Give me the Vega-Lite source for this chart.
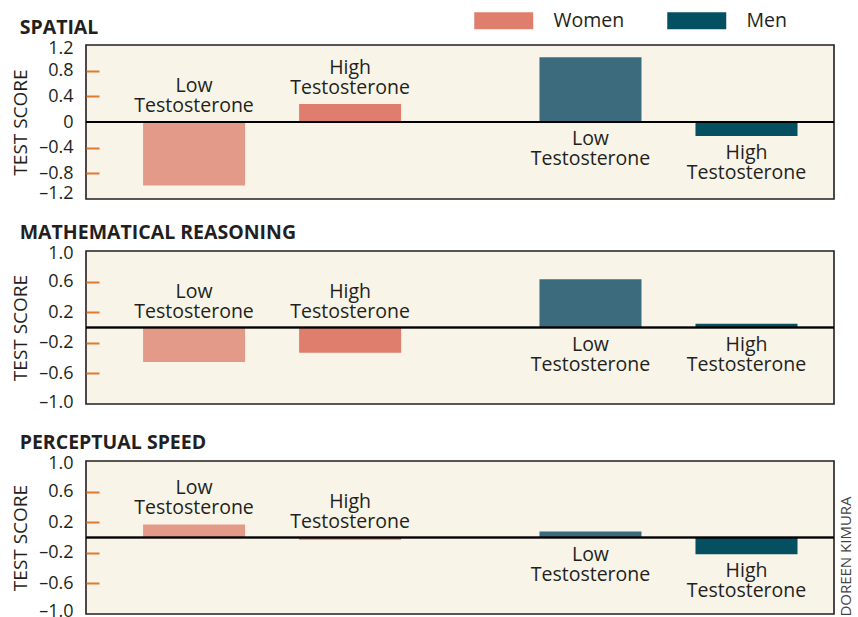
{
  "$schema": "https://vega.github.io/schema/vega-lite/v6.json",
  "padding": {"left": 10, "top": 10, "right": 2, "bottom": 0},
  "background": "white",
  "data": {"values": [
    {"test": "Spatial", "sex": "Women", "level": "Low", "group": "Women Low", "value": -0.99, "label": "Low\nTestosterone"},
    {"test": "Spatial", "sex": "Women", "level": "High", "group": "Women High", "value": 0.28, "label": "High\nTestosterone"},
    {"test": "Spatial", "sex": "Men", "level": "Low", "group": "Men Low", "value": 1.01, "label": "Low\nTestosterone"},
    {"test": "Spatial", "sex": "Men", "level": "High", "group": "Men High", "value": -0.22, "label": "High\nTestosterone"},
    {"test": "Math", "sex": "Women", "level": "Low", "group": "Women Low", "value": -0.45, "label": "Low\nTestosterone"},
    {"test": "Math", "sex": "Women", "level": "High", "group": "Women High", "value": -0.33, "label": "High\nTestosterone"},
    {"test": "Math", "sex": "Men", "level": "Low", "group": "Men Low", "value": 0.63, "label": "Low\nTestosterone"},
    {"test": "Math", "sex": "Men", "level": "High", "group": "Men High", "value": 0.05, "label": "High\nTestosterone"},
    {"test": "Perceptual", "sex": "Women", "level": "Low", "group": "Women Low", "value": 0.17, "label": "Low\nTestosterone"},
    {"test": "Perceptual", "sex": "Women", "level": "High", "group": "Women High", "value": -0.03, "label": "High\nTestosterone"},
    {"test": "Perceptual", "sex": "Men", "level": "Low", "group": "Men Low", "value": 0.08, "label": "Low\nTestosterone"},
    {"test": "Perceptual", "sex": "Men", "level": "High", "group": "Men High", "value": -0.22, "label": "High\nTestosterone"}
  ]},
  "config": {
    "font": "Open Sans",
    "view": {"fill": "#F8F5E8", "stroke": "#231F20", "strokeWidth": 1.6},
    "title": {"anchor": "start", "frame": "bounds", "fontSize": 19.5, "fontWeight": "bold", "color": "#231F20", "dx": 8, "offset": 1.5, "font": "Open Sans"},
    "text": {"font": "Open Sans", "fontSize": 19.5, "color": "#231F20", "lineBreak": "\n", "lineHeight": 20},
    "axis": {"labelFont": "Open Sans", "titleFont": "Open Sans", "labelOverlap": false},
    "axisY": {"titleFontSize": 19, "titleFontWeight": "normal", "titleColor": "#231F20", "titlePadding": 8,
      "labelFontSize": 18, "labelColor": "#231F20", "labelPadding": 26, "labelOverlap": false,
      "domain": false, "grid": false, "tickSize": -13, "tickColor": "#E1782F", "tickWidth": 2}
  },
  "spacing": 18,
  "resolve": {"scale": {"color": "shared", "y": "independent", "x": "independent", "xOffset": "independent"}, "legend": {"color": "shared"}},
  "vconcat": [
    {
      "title": "SPATIAL",
      "width": 748, "height": 154,
      "transform": [{"filter": "datum.test == 'Spatial'"}],
      "resolve": {"axis": {"y": "independent"}},
      "layer": [
        {
          "mark": {"type": "bar"},
          "encoding": {
            "x": {"field": "sex", "type": "nominal", "axis": null, "scale": {"domain": ["Women", "Men"], "paddingInner": 0.349, "paddingOuter": 0.118, "align": 0.61}},
            "xOffset": {"field": "level", "type": "nominal", "scale": {"domain": ["Low", "High"], "paddingInner": 0.346, "paddingOuter": 0}},
            "y": {"field": "value", "type": "quantitative", "stack": null,
              "scale": {"domain": [-1.2, 1.2], "nice": false},
              "axis": {"title": "TEST SCORE", "labelOverlap": false, "labelFontSize": 18,
                "values": [-1.2, -0.8, -0.4, 0, 0.4, 0.8, 1.2],
                "labelExpr": "datum.value == 0 ? '0' : (datum.value < 0 ? '–' : '') + format(abs(datum.value), '.1f')",
                "labelOffset": {"condition": [{"test": "datum.value > 1.1", "value": 3.5}, {"test": "datum.value < -1.1", "value": -6}], "value": 0},
                "tickOpacity": {"condition": {"test": "abs(datum.value) > 1.1 || datum.value == 0", "value": 0}, "value": 1}}},
            "color": {"field": "group", "type": "nominal",
              "scale": {"domain": ["Women Low", "Women High", "Men Low", "Men High"], "range": ["#E49A89", "#E07E6E", "#3D6B7E", "#055060"]},
              "legend": {"orient": "none", "legendX": 408, "legendY": -34.5, "direction": "horizontal", "title": null,
                "values": ["Women High", "Men High"], "labelExpr": "split(datum.label, ' ')[0]",
                "symbolType": "M-3.47,-1H3.47V1H-3.47Z", "symbolSize": 289, "symbolStrokeWidth": 0, "symbolOpacity": 1,
                "labelFontSize": 19.5, "labelColor": "#231F20", "labelFont": "Open Sans", "labelOffset": 40, "columnPadding": 42, "padding": 0}}
          }
        },
        {"mark": {"type": "rule", "color": "#000000", "strokeWidth": 1.5}, "encoding": {"y": {"datum": 0, "axis": null}}},
        {
          "transform": [{"filter": "datum.sex == 'Women' && datum.value >= 0"}],
          "mark": {"type": "text", "baseline": "bottom", "dy": -26},
          "encoding": {
            "x": {"field": "sex", "type": "nominal"}, "xOffset": {"field": "level", "type": "nominal"},
            "y": {"field": "value", "type": "quantitative", "axis": null}, "text": {"field": "label"}}
        },
        {
          "transform": [{"filter": "datum.sex == 'Women' && datum.value < 0"}],
          "mark": {"type": "text", "baseline": "bottom", "dy": -26},
          "encoding": {
            "x": {"field": "sex", "type": "nominal"}, "xOffset": {"field": "level", "type": "nominal"},
            "y": {"datum": 0, "axis": null}, "text": {"field": "label"}}
        },
        {
          "transform": [{"filter": "datum.sex == 'Men' && datum.value > 0"}],
          "mark": {"type": "text", "baseline": "top", "dy": 8},
          "encoding": {
            "x": {"field": "sex", "type": "nominal"}, "xOffset": {"field": "level", "type": "nominal"},
            "y": {"datum": 0, "axis": null}, "text": {"field": "label"}}
        },
        {
          "transform": [{"filter": "datum.sex == 'Men' && datum.value <= 0"}],
          "mark": {"type": "text", "baseline": "top", "dy": 8},
          "encoding": {
            "x": {"field": "sex", "type": "nominal"}, "xOffset": {"field": "level", "type": "nominal"},
            "y": {"field": "value", "type": "quantitative", "axis": null}, "text": {"field": "label"}}
        }
      ]
    },
    {
      "title": "MATHEMATICAL REASONING",
      "width": 748, "height": 153,
      "transform": [{"filter": "datum.test == 'Math'"}],
      "resolve": {"axis": {"y": "independent"}},
      "layer": [
        {
          "mark": {"type": "bar"},
          "encoding": {
            "x": {"field": "sex", "type": "nominal", "axis": null, "scale": {"domain": ["Women", "Men"], "paddingInner": 0.349, "paddingOuter": 0.118, "align": 0.61}},
            "xOffset": {"field": "level", "type": "nominal", "scale": {"domain": ["Low", "High"], "paddingInner": 0.346, "paddingOuter": 0}},
            "y": {"field": "value", "type": "quantitative", "stack": null,
              "scale": {"domain": [-1, 1], "nice": false},
              "axis": {"title": "TEST SCORE", "labelOverlap": false, "labelFontSize": 18,
                "values": [-1, -0.6, -0.2, 0.2, 0.6, 1],
                "labelExpr": "(datum.value < 0 ? '–' : '') + format(abs(datum.value), '.1f')",
                "labelOffset": {"condition": [{"test": "datum.value > 0.9", "value": 2.5}, {"test": "datum.value < -0.9", "value": -1.5}], "value": 0},
                "tickOpacity": {"condition": {"test": "abs(datum.value) > 0.9", "value": 0}, "value": 1}}},
            "color": {"field": "group", "type": "nominal",
              "scale": {"domain": ["Women Low", "Women High", "Men Low", "Men High"], "range": ["#E49A89", "#E07E6E", "#3D6B7E", "#055060"]}}
          }
        },
        {"mark": {"type": "rule", "color": "#000000", "strokeWidth": 1.5}, "encoding": {"y": {"datum": 0, "axis": null}}},
        {
          "transform": [{"filter": "datum.sex == 'Women' && datum.value >= 0"}],
          "mark": {"type": "text", "baseline": "bottom", "dy": -26},
          "encoding": {
            "x": {"field": "sex", "type": "nominal"}, "xOffset": {"field": "level", "type": "nominal"},
            "y": {"field": "value", "type": "quantitative", "axis": null}, "text": {"field": "label"}}
        },
        {
          "transform": [{"filter": "datum.sex == 'Women' && datum.value < 0"}],
          "mark": {"type": "text", "baseline": "bottom", "dy": -26},
          "encoding": {
            "x": {"field": "sex", "type": "nominal"}, "xOffset": {"field": "level", "type": "nominal"},
            "y": {"datum": 0, "axis": null}, "text": {"field": "label"}}
        },
        {
          "transform": [{"filter": "datum.sex == 'Men' && datum.value > 0"}],
          "mark": {"type": "text", "baseline": "top", "dy": 8},
          "encoding": {
            "x": {"field": "sex", "type": "nominal"}, "xOffset": {"field": "level", "type": "nominal"},
            "y": {"datum": 0, "axis": null}, "text": {"field": "label"}}
        },
        {
          "transform": [{"filter": "datum.sex == 'Men' && datum.value <= 0"}],
          "mark": {"type": "text", "baseline": "top", "dy": 8},
          "encoding": {
            "x": {"field": "sex", "type": "nominal"}, "xOffset": {"field": "level", "type": "nominal"},
            "y": {"field": "value", "type": "quantitative", "axis": null}, "text": {"field": "label"}}
        }
      ]
    },
    {
      "title": "PERCEPTUAL SPEED",
      "width": 748, "height": 153,
      "transform": [{"filter": "datum.test == 'Perceptual'"}],
      "resolve": {"axis": {"y": "independent"}},
      "layer": [
        {
          "mark": {"type": "bar"},
          "encoding": {
            "x": {"field": "sex", "type": "nominal", "axis": null, "scale": {"domain": ["Women", "Men"], "paddingInner": 0.349, "paddingOuter": 0.118, "align": 0.61}},
            "xOffset": {"field": "level", "type": "nominal", "scale": {"domain": ["Low", "High"], "paddingInner": 0.346, "paddingOuter": 0}},
            "y": {"field": "value", "type": "quantitative", "stack": null,
              "scale": {"domain": [-1, 1], "nice": false},
              "axis": {"title": "TEST SCORE", "labelOverlap": false, "labelFontSize": 18,
                "values": [-1, -0.6, -0.2, 0.2, 0.6, 1],
                "labelExpr": "(datum.value < 0 ? '–' : '') + format(abs(datum.value), '.1f')",
                "labelOffset": {"condition": [{"test": "datum.value > 0.9", "value": 2.5}, {"test": "datum.value < -0.9", "value": -2.5}], "value": 0},
                "tickOpacity": {"condition": {"test": "abs(datum.value) > 0.9", "value": 0}, "value": 1}}},
            "color": {"field": "group", "type": "nominal",
              "scale": {"domain": ["Women Low", "Women High", "Men Low", "Men High"], "range": ["#E49A89", "#E07E6E", "#3D6B7E", "#055060"]}}
          }
        },
        {"mark": {"type": "rule", "color": "#000000", "strokeWidth": 1.5},
         "encoding": {"y": {"datum": 0, "type": "quantitative",
           "axis": {"orient": "right", "title": "DOREEN KIMURA", "labels": false, "ticks": false, "domain": false, "grid": false,
             "titleAngle": 270, "titleX": 11, "titleY": 95, "titleAlign": "center", "titleBaseline": "middle",
             "titleFontSize": 15, "titleFontWeight": "normal", "titleColor": "#444444", "titlePadding": 0}}}},
        {
          "transform": [{"filter": "datum.sex == 'Women' && datum.value >= 0"}],
          "mark": {"type": "text", "baseline": "bottom", "dy": -26},
          "encoding": {
            "x": {"field": "sex", "type": "nominal"}, "xOffset": {"field": "level", "type": "nominal"},
            "y": {"field": "value", "type": "quantitative", "axis": null}, "text": {"field": "label"}}
        },
        {
          "transform": [{"filter": "datum.sex == 'Women' && datum.value < 0"}],
          "mark": {"type": "text", "baseline": "bottom", "dy": -26},
          "encoding": {
            "x": {"field": "sex", "type": "nominal"}, "xOffset": {"field": "level", "type": "nominal"},
            "y": {"datum": 0, "axis": null}, "text": {"field": "label"}}
        },
        {
          "transform": [{"filter": "datum.sex == 'Men' && datum.value > 0"}],
          "mark": {"type": "text", "baseline": "top", "dy": 8},
          "encoding": {
            "x": {"field": "sex", "type": "nominal"}, "xOffset": {"field": "level", "type": "nominal"},
            "y": {"datum": 0, "axis": null}, "text": {"field": "label"}}
        },
        {
          "transform": [{"filter": "datum.sex == 'Men' && datum.value <= 0"}],
          "mark": {"type": "text", "baseline": "top", "dy": 8},
          "encoding": {
            "x": {"field": "sex", "type": "nominal"}, "xOffset": {"field": "level", "type": "nominal"},
            "y": {"field": "value", "type": "quantitative", "axis": null}, "text": {"field": "label"}}
        }
      ]
    }
  ]
}
